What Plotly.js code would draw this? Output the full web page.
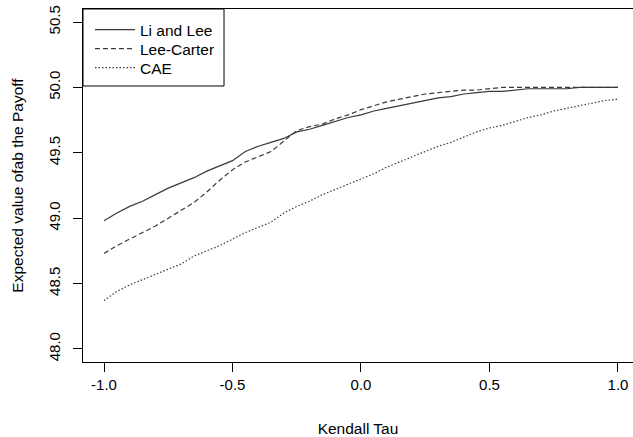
<!DOCTYPE html>
<html>
<head>
<meta charset="utf-8">
<script src="https://cdn.plot.ly/plotly-3.0.1.min.js"></script>
<style>html,body{margin:0;padding:0;background:#fff;}#chart{width:633px;height:437px;}</style>
</head>
<body>
<div id="chart"></div>
<script>
const tau = [-1.00,-0.95,-0.90,-0.85,-0.80,-0.75,-0.70,-0.65,-0.60,-0.55,-0.50,-0.45,-0.40,-0.35,-0.30,-0.25,-0.20,-0.15,-0.10,-0.05,0.00,0.05,0.10,0.15,0.20,0.25,0.30,0.35,0.40,0.45,0.50,0.55,0.60,0.65,0.70,0.75,0.80,0.85,0.90,0.95,1.00];
const liLee = [48.98,49.04,49.09,49.13,49.18,49.23,49.27,49.31,49.36,49.40,49.44,49.51,49.55,49.58,49.61,49.66,49.68,49.71,49.74,49.77,49.79,49.82,49.84,49.86,49.88,49.90,49.92,49.93,49.95,49.96,49.97,49.97,49.98,49.99,49.99,49.99,49.99,50.00,50.00,50.00,50.00];
const leeCarter = [48.73,48.79,48.84,48.89,48.94,49.00,49.06,49.12,49.20,49.29,49.37,49.43,49.47,49.51,49.59,49.67,49.70,49.72,49.76,49.79,49.83,49.86,49.89,49.91,49.93,49.95,49.96,49.97,49.98,49.98,49.99,50.00,50.00,50.00,50.00,50.00,50.00,50.00,50.00,50.00,50.00];
const cae = [48.37,48.44,48.49,48.53,48.57,48.61,48.65,48.71,48.75,48.79,48.84,48.89,48.93,48.97,49.04,49.09,49.13,49.18,49.22,49.26,49.30,49.34,49.39,49.43,49.47,49.51,49.55,49.58,49.62,49.66,49.69,49.71,49.74,49.77,49.79,49.82,49.84,49.86,49.88,49.90,49.91];
const seriesNames = ["Li and Lee", "Lee-Carter", "CAE"];
const xTicks = [-1.0, -0.5, 0.0, 0.5, 1.0];
const xTickText = ["-1.0", "-0.5", "0.0", "0.5", "1.0"];
const yTicks = [48.0, 48.5, 49.0, 49.5, 50.0, 50.5];
const yTickText = ["48.0", "48.5", "49.0", "49.5", "50.0", "50.5"];

const font = "Liberation Sans, Arial, sans-serif";
const lineColor = "#3a3a3a";
const traces = [
  {x: tau, y: liLee, name: seriesNames[0], mode: "lines", legend: "legend", line: {color: lineColor, width: 1.2, dash: "solid"}},
  {x: tau, y: leeCarter, name: seriesNames[1], mode: "lines", legend: "legend2", line: {color: lineColor, width: 1.2, dash: "5px,3px"}},
  {x: tau, y: cae, name: seriesNames[2], mode: "lines", legend: "legend3", line: {color: lineColor, width: 1.2, dash: "1.5px,2px"}}
];
function legendAt(yFrac) {
  return {x: 0.0127, y: yFrac, xanchor: "left", yanchor: "middle", bgcolor: "rgba(0,0,0,0)", borderwidth: 0,
          itemwidth: 40, font: {family: font, size: 15.5, color: "#000"}};
}
const layout = {
  width: 633, height: 437,
  margin: {l: 83, r: 0, t: 9, b: 75},
  paper_bgcolor: "#fff", plot_bgcolor: "#fff",
  font: {family: font, size: 15, color: "#000"},
  showlegend: true,
  legend: legendAt(0.9405),
  legend2: legendAt(0.8867),
  legend3: legendAt(0.8329),
  shapes: [{type: "rect", xref: "paper", yref: "paper", x0: 0, x1: 0.2564, y0: 0.7819, y1: 1,
            line: {color: "#000", width: 1}, fillcolor: "rgba(0,0,0,0)", layer: "above"}],
  xaxis: {
    range: [-1.0817, 1.0584], showgrid: false, zeroline: false,
    showline: true, linecolor: "#000", linewidth: 1, mirror: true,
    ticks: "outside", ticklen: 9, tickcolor: "#000", tickwidth: 1,
    tickvals: xTicks, ticktext: xTickText, tickfont: {family: font, size: 15, color: "#000"},
    title: {text: "Kendall Tau", font: {family: font, size: 15.5, color: "#000"}, standoff: 33},
    automargin: false
  },
  yaxis: {
    range: [47.9, 50.6], showgrid: false, zeroline: false,
    showline: true, linecolor: "#000", linewidth: 1, mirror: false,
    ticks: "outside", ticklen: 9, tickcolor: "#000", tickwidth: 1, ticklabelstandoff: 7,
    tickvals: yTicks, ticktext: yTickText, tickangle: -90, tickfont: {family: font, size: 15, color: "#000"},
    title: {text: "Expected value ofab the Payoff", font: {family: font, size: 15.5, color: "#000"}, standoff: 18},
    automargin: false
  }
};
Plotly.newPlot("chart", traces, layout, {displayModeBar: false, staticPlot: true});
</script>
</body>
</html>
